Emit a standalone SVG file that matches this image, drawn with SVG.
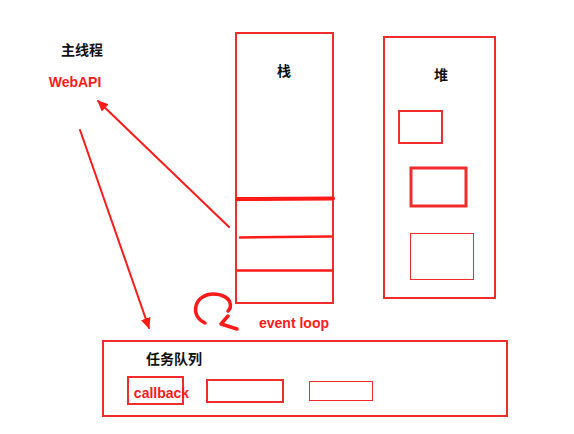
<svg xmlns="http://www.w3.org/2000/svg" width="574" height="434" viewBox="0 0 574 434">
<style>
.box{fill:none;stroke:#f02c2c}
.ln{fill:none;stroke:#ff1a1a;stroke-linecap:round;stroke-linejoin:round}
.cn{font-family:"Noto Sans CJK SC","Noto Sans",sans-serif;font-size:14px;font-weight:bold;fill:#111}
.rt{font-family:"Liberation Sans",Arial,sans-serif;font-size:14px;font-weight:bold;fill:#ff1a1a}
</style>
<defs>
<marker id="ah" markerWidth="12" markerHeight="12" refX="10" refY="5" orient="auto" markerUnits="userSpaceOnUse" viewBox="0 0 12 10">
<path d="M0,0 L11,5 L0,10 Z" fill="#ff1a1a"/>
</marker>
</defs>
<rect width="574" height="434" fill="#fff"/>
<g id="main-thread">
<text class="cn" x="82" y="55" text-anchor="middle">主线程</text>
</g>
<g id="webapi">
<text class="rt" x="75" y="86.5" text-anchor="middle">WebAPI</text>
</g>
<g id="stack">
<rect class="box" x="236" y="33" width="97" height="270" stroke-width="2"/>
<text class="cn" x="284" y="76" text-anchor="middle">栈</text>
<line class="ln" x1="237" y1="199" x2="333" y2="198.5" stroke-width="4"/>
<line class="ln" x1="240" y1="237.5" x2="331" y2="236.5" stroke-width="2.5"/>
<line class="ln" x1="238" y1="270.5" x2="332" y2="270.5" stroke-width="2.5"/>
</g>
<g id="heap">
<rect class="box" x="384" y="37" width="111" height="261" stroke-width="2"/>
<text class="cn" x="441" y="80" text-anchor="middle">堆</text>
<rect class="box" x="399" y="111" width="43" height="32" stroke-width="2"/>
<rect class="box" x="411" y="168" width="55" height="38" stroke-width="3"/>
<rect class="box" x="410.5" y="233.5" width="63" height="46" stroke-width="1"/>
</g>
<g id="task-queue">
<rect class="box" x="103" y="341" width="404" height="75" stroke-width="2"/>
<text class="cn" x="174" y="364" text-anchor="middle">任务队列</text>
<rect class="box" x="128" y="377" width="55" height="27" stroke-width="2"/>
<text class="rt" x="161.5" y="398" text-anchor="middle">callback</text>
<rect class="box" x="207" y="380" width="76" height="22" stroke-width="2"/>
<rect class="box" x="309.5" y="381.5" width="63" height="19" stroke-width="1"/>
</g>
<g id="event-loop">
<path class="ln" stroke-width="3.5" d="M205,323 C198,320 194,313 196,306 C198,298 206,294 213,294 C222,294 229,298 230,303 C231,306 230,309 228,311"/>
<path class="ln" stroke-width="3.5" d="M228,316 L221,324 L237,329"/>
<text class="rt" x="294" y="328" text-anchor="middle">event loop</text>
</g>
<g id="connectors">
<line class="ln" x1="229" y1="227" x2="98" y2="101" stroke-width="2" marker-end="url(#ah)"/>
<line class="ln" x1="80" y1="130" x2="149" y2="328" stroke-width="2" marker-end="url(#ah)"/>
</g>
</svg>
